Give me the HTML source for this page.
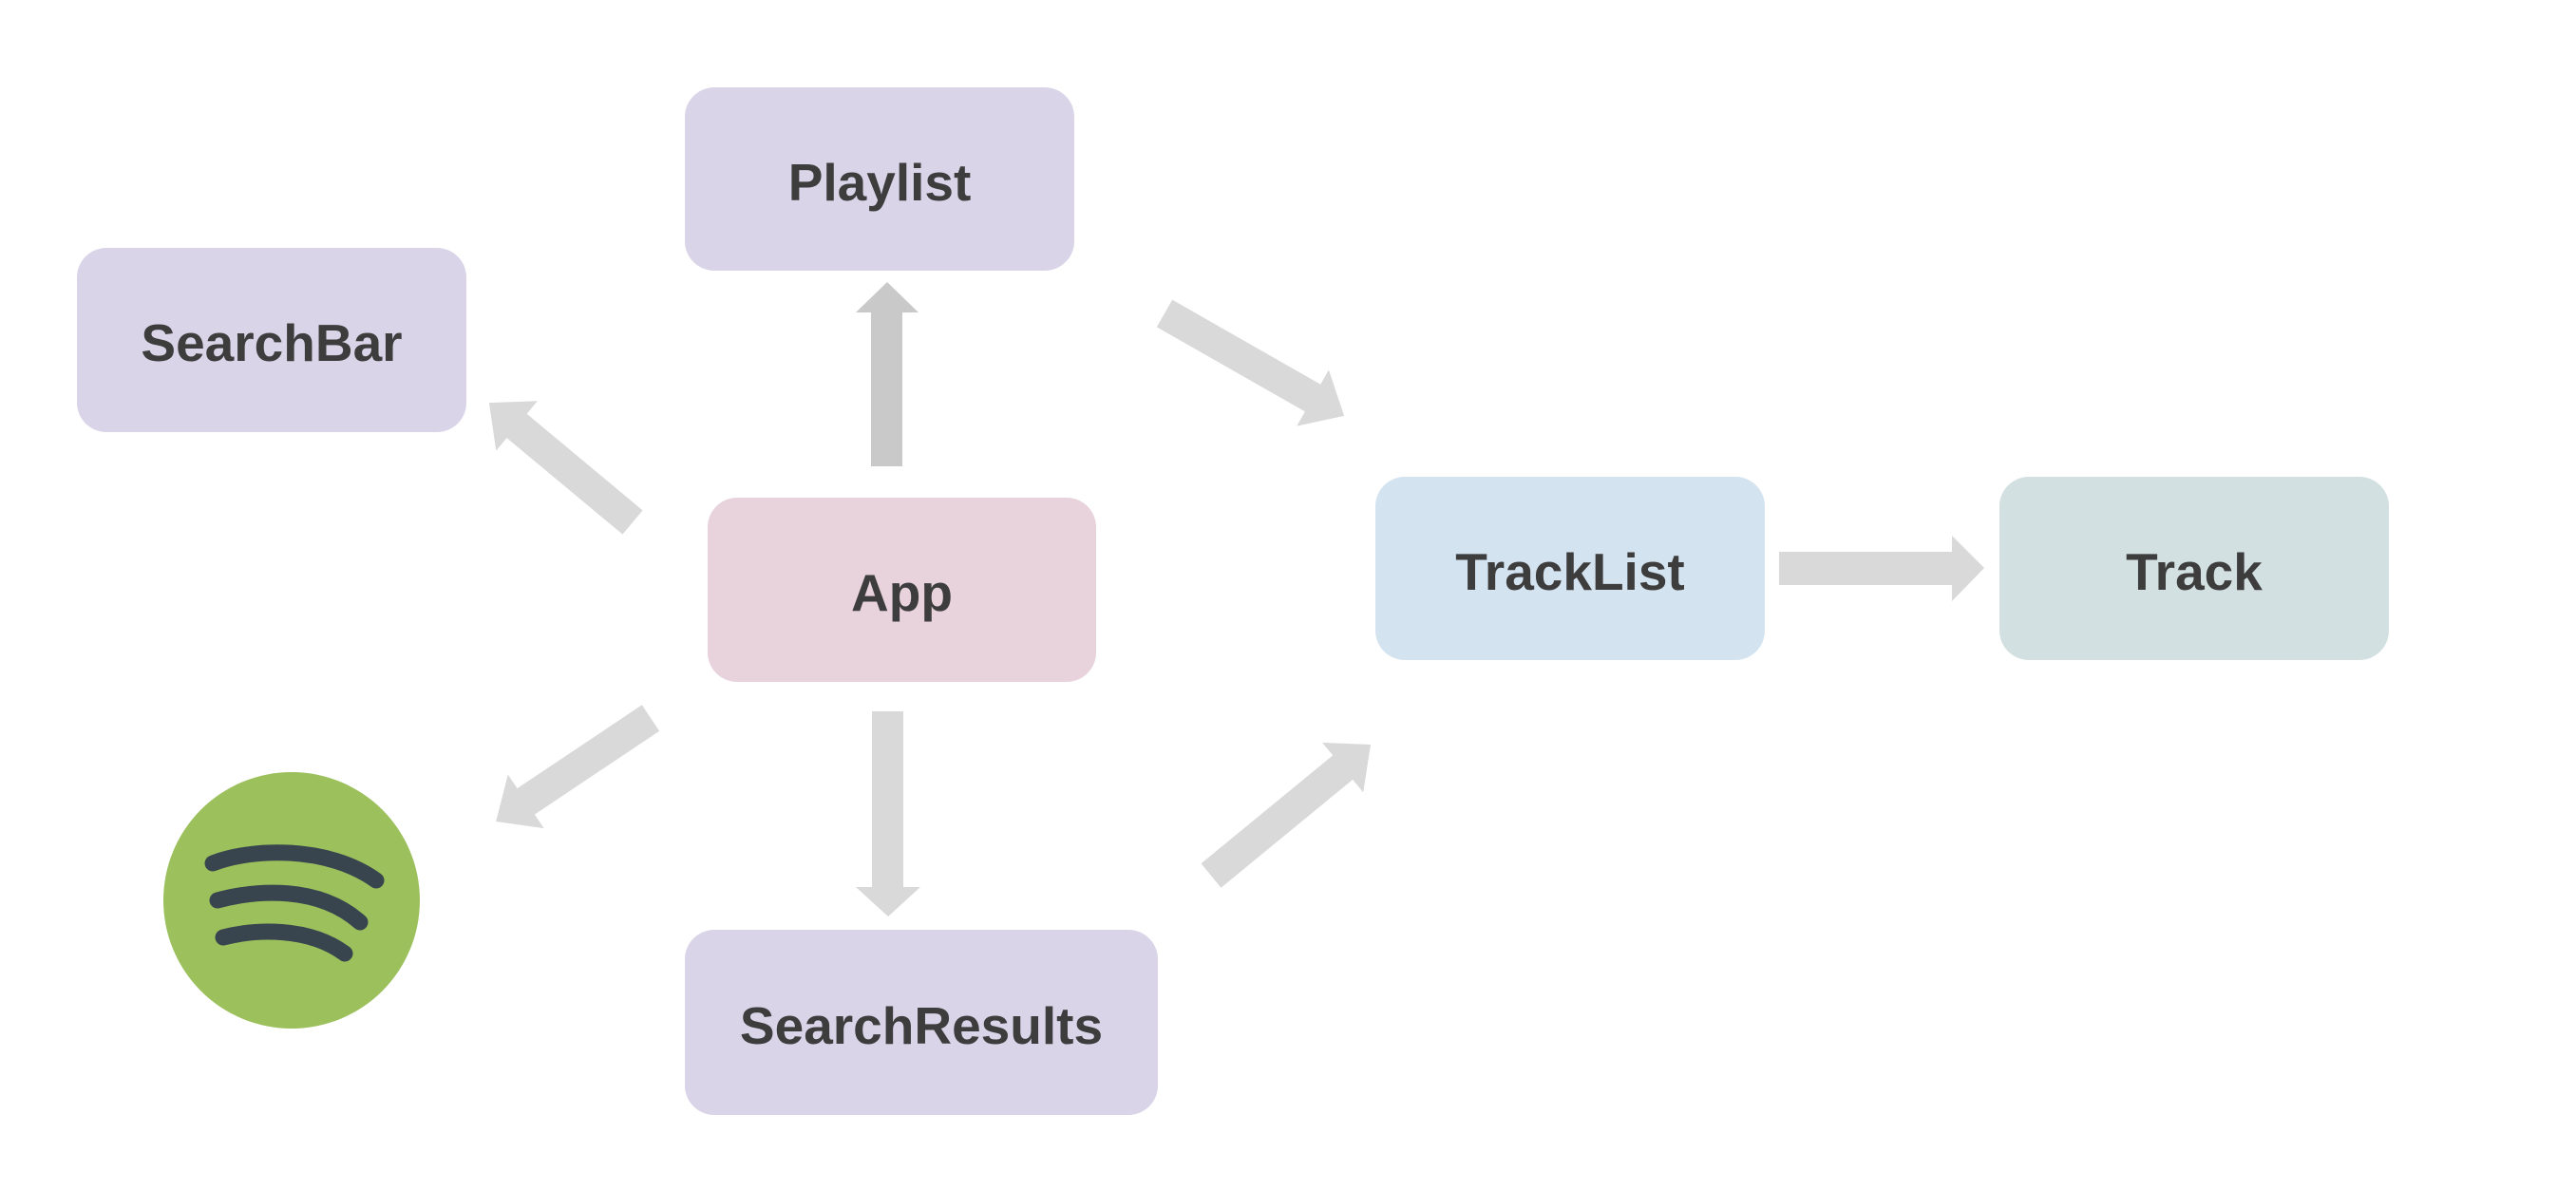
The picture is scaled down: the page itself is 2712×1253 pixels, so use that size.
<!DOCTYPE html>
<html><head><meta charset="utf-8"><style>
html,body{margin:0;padding:0;background:#fff;}
body{width:2712px;height:1253px;position:relative;overflow:hidden;font-family:"Liberation Sans",Arial,sans-serif;}
.n{position:absolute;border-radius:31px;display:flex;align-items:center;justify-content:center;font-weight:bold;font-size:55px;color:#3d3d3d;padding-top:6px;box-sizing:border-box;}
svg{position:absolute;left:0;top:0;}
</style></head><body>
<svg width="2712" height="1253" viewBox="0 0 2712 1253">
<g fill="#d9d9d9">
<polygon fill="#c9c9c9" points="917,491 917,329 901,329 934,297 967,329 950,329 950,491"/>
<polygon points="918,749 951,749 951,934 969,934 935,965 901,934 918,934"/>
<polygon points="1873,581 2055,581 2055,564 2089,598 2055,633 2055,616 1873,616"/>
<g transform="translate(666,550) rotate(219.8)"><polygon points="0,-16.5 158.7,-16.5 158.7,-34 196.7,0 158.7,34 158.7,16.5 0,16.5"/></g>
<g transform="translate(685,756) rotate(146.2)"><polygon points="0,-16.5 158,-16.5 158,-34 196,0 158,34 158,16.5 0,16.5"/></g>
<g transform="translate(1226,330) rotate(29.7)"><polygon points="0,-16.5 179.7,-16.5 179.7,-34 217.7,0 179.7,34 179.7,16.5 0,16.5"/></g>
<g transform="translate(1275,922) rotate(-39.4)"><polygon points="0,-16.5 179.4,-16.5 179.4,-34 217.4,0 179.4,34 179.4,16.5 0,16.5"/></g>
</g>
<circle cx="307" cy="948" r="135" fill="#9bc05c"/>
<g fill="none" stroke="#38454f" stroke-width="17" stroke-linecap="round">
<path d="M224,909 C265,893 345,890 396,927"/>
<path d="M229,948 C270,937 335,932 379,971"/>
<path d="M235,987 C270,978 325,976 363,1004"/>
</g>
</svg>
<div class="n" style="left:721px;top:92px;width:410px;height:193px;background:#d9d4e8;">Playlist</div>
<div class="n" style="left:81px;top:261px;width:410px;height:194px;background:#d9d4e8;">SearchBar</div>
<div class="n" style="left:745px;top:524px;width:409px;height:194px;background:#e8d3dc;">App</div>
<div class="n" style="left:721px;top:979px;width:498px;height:195px;background:#d9d4e8;">SearchResults</div>
<div class="n" style="left:1448px;top:502px;width:410px;height:193px;background:#d4e3f0;">TrackList</div>
<div class="n" style="left:2105px;top:502px;width:410px;height:193px;background:#d3e0e1;">Track</div>
</body></html>
